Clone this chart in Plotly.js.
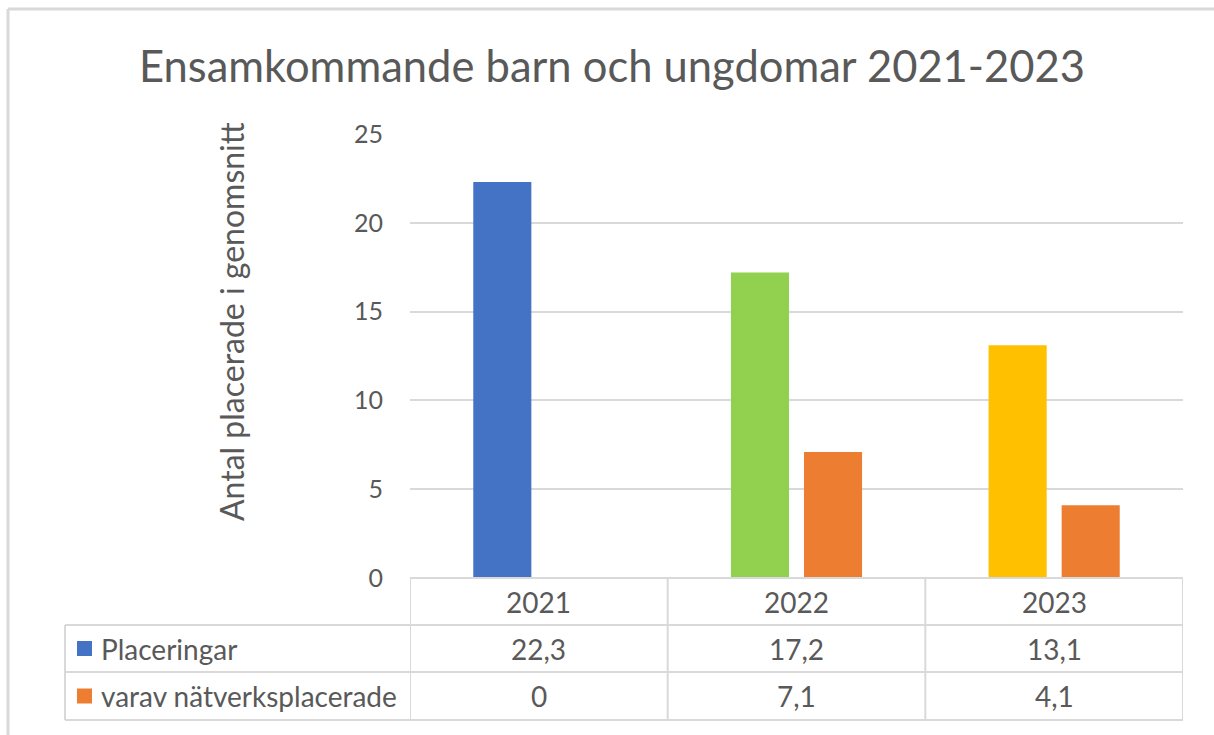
<!DOCTYPE html>
<html>
<head>
<meta charset="utf-8">
<script src="https://cdn.plot.ly/plotly-3.0.1.min.js"></script>
<style>
html,body{margin:0;padding:0;background:#fff;}
#chart{width:1214px;height:735px;}
</style>
</head>
<body>
<div id="chart"></div>
<script>
// ---- data ----
const chartTitle = 'Ensamkommande barn och ungdomar 2021-2023';
const yAxisTitle = 'Antal placerade i genomsnitt';
const categories = ['2021', '2022', '2023'];
const seriesNames = ['Placeringar', 'varav nätverksplacerade'];
const placeringar = [22.3, 17.2, 13.1];
const natverksplacerade = [0, 7.1, 4.1];
const yTicks = [0, 5, 10, 15, 20, 25];

// ---- styling ----
const placeringarColors = ['#4472C4', '#92D050', '#FFC000'];
const orange = '#ED7D31';
const textColor = '#595959';
const lineColor = '#D9D9D9';
const FONT = 'Lato, "Open Sans", sans-serif';

const W = 1214, H = 735;
const M = {l: 410, r: 31, t: 134, b: 157};
const PW = W - M.l - M.r, PH = H - M.t - M.b;
const px = v => (v - M.l) / PW;          // pixel x -> paper
const py = v => (H - M.b - v) / PH;      // pixel y -> paper

const fmt = v => String(v).replace('.', ',');

const traces = [
  {type: 'bar', name: seriesNames[0], x: categories, y: placeringar,
   marker: {color: placeringarColors}, hoverinfo: 'x+y'},
  {type: 'bar', name: seriesNames[1], x: categories, y: natverksplacerade,
   marker: {color: orange}, hoverinfo: 'x+y'}
];

const shapes = [];
const annotations = [];
const line = (x0, y0, x1, y1, xref, yref, w) => shapes.push({
  type: 'line', xref: xref, yref: yref, x0: x0, y0: y0, x1: x1, y1: y1,
  line: {color: lineColor, width: w || 2}, layer: 'above'
});

// outer frame (top + left)
line(px(8), py(9), px(W + 5), py(9), 'paper', 'paper', 3);
line(px(8), py(9), px(8), py(H + 5), 'paper', 'paper', 3);

// data table rows
const rowTop = [578, 625, 672, 720];
line(-0.5, py(rowTop[0]), categories.length - 0.5, py(rowTop[0]), 'x', 'paper');
for (let i = 1; i < rowTop.length; i++) {
  line(px(65), py(rowTop[i]), 1, py(rowTop[i]), 'paper', 'paper');
}
// vertical lines
line(px(65), py(rowTop[1]), px(65), py(rowTop[3]), 'paper', 'paper');
for (let c = 0; c <= categories.length; c++) {
  line(c - 0.5, py(rowTop[0]), c - 0.5, py(rowTop[3]), 'x', 'paper');
}

const tblFont = {family: FONT, size: 28, color: textColor};
// header row (categories) - category axis annotations use serial index
categories.forEach((cat, i) => {
  annotations.push({x: i, xref: 'x', y: py((rowTop[0] + rowTop[1]) / 2), yref: 'paper',
    text: cat, showarrow: false, font: tblFont, xanchor: 'center', yanchor: 'middle'});
});
// series rows
const rowsData = [placeringar, natverksplacerade];
const keyColors = [placeringarColors[0], orange];
rowsData.forEach((vals, r) => {
  const yc = (rowTop[r + 1] + rowTop[r + 2]) / 2;
  shapes.push({type: 'rect', xref: 'paper', yref: 'paper',
    x0: px(77), x1: px(92), y0: py(yc - 7.5), y1: py(yc + 7.5),
    fillcolor: keyColors[r], line: {width: 0}});
  annotations.push({x: px(99), xref: 'paper', y: py(yc), yref: 'paper',
    text: seriesNames[r], showarrow: false, font: tblFont, xanchor: 'left', yanchor: 'middle'});
  vals.forEach((v, i) => {
    annotations.push({x: i, xref: 'x', y: py(yc), yref: 'paper',
      text: fmt(v), showarrow: false, font: tblFont, xanchor: 'center', yanchor: 'middle'});
  });
});

// y axis title
annotations.push({x: px(231), xref: 'paper', y: py(322), yref: 'paper',
  text: yAxisTitle, textangle: -90, showarrow: false,
  font: {family: FONT, size: 32, color: textColor}, xanchor: 'center', yanchor: 'middle'});

const layout = {
  width: W, height: H,
  margin: M,
  paper_bgcolor: '#fff', plot_bgcolor: '#fff',
  showlegend: false,
  title: {text: chartTitle, x: 612 / W, xref: 'container', xanchor: 'center',
    y: 1 - 67 / H, yref: 'container', yanchor: 'middle',
    font: {family: FONT, size: 43.5, color: textColor}},
  barmode: 'group', bargap: 0.433, bargroupgap: 0.205,
  xaxis: {type: 'category', showticklabels: false, showgrid: false, zeroline: false,
    showline: false, ticks: '', range: [-0.5, categories.length - 0.5], fixedrange: true},
  yaxis: {range: [0, 25], tickvals: yTicks, ticktext: yTicks.map(String),
    showgrid: true, gridcolor: lineColor, gridwidth: 2, zeroline: false, showline: false,
    ticks: '', ticklabelstandoff: 26,
    tickfont: {family: FONT, size: 25, color: textColor}, fixedrange: true},
  shapes: shapes,
  annotations: annotations
};

Plotly.newPlot('chart', traces, layout, {displayModeBar: false, staticPlot: true});
</script>
</body>
</html>
